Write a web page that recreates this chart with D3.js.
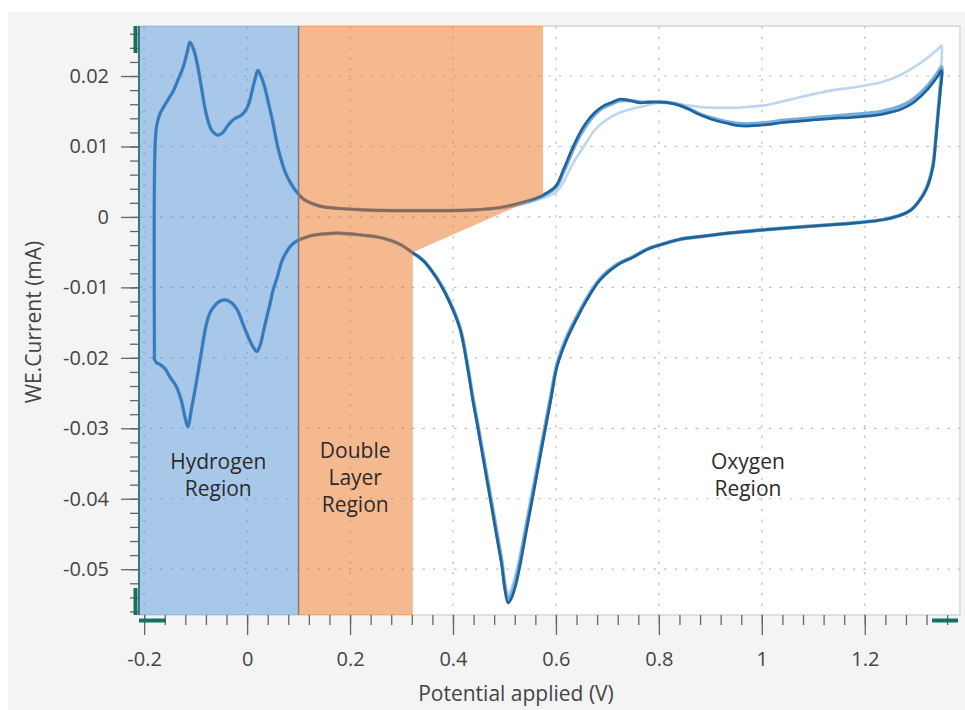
<!DOCTYPE html>
<html><head><meta charset="utf-8">
<script src="https://cdn.jsdelivr.net/npm/d3@7"></script>
<style>
html,body{margin:0;padding:0;background:#fff;}
svg{display:block;}
text{font-family:"Open Sans","Noto Sans",sans-serif;}
</style></head><body>
<svg id="chart" width="965" height="710"></svg>
<script>
// ---------------- DATA ----------------
const xTickValues = [-0.2, 0, 0.2, 0.4, 0.6, 0.8, 1, 1.2];
const yTickValues = [-0.05, -0.04, -0.03, -0.02, -0.01, 0, 0.01, 0.02];
const xTitle = "Potential applied (V)";
const yTitle = "WE.Current (mA)";
const regionNames = [["Hydrogen","Region"],["Double","Layer","Region"],["Oxygen","Region"]];

// anodic (forward) sweep potentials, V
const forwardPotential = [
 -0.180,-0.179,-0.176,-0.170,-0.163,-0.154,-0.144,-0.134,-0.124,-0.116,
 -0.111,-0.104,-0.097,-0.089,-0.082,-0.075,-0.068,-0.056,-0.047,-0.039,
 -0.030,-0.023,-0.012,-0.004,0.004,0.010,0.016,0.021,0.028,0.035,
 0.042,0.049,0.060,0.070,0.078,0.088,0.097,0.110,0.130,0.150,
 0.180,0.225,0.280,0.340,0.390,0.440,0.490,0.520,0.550,0.575,
 0.600,0.615,0.633,0.647,0.660,0.675,0.691,0.710,0.724,0.745,
 0.763,0.785,0.802,0.820,0.841,0.860,0.880,0.905,0.932,0.950,
 0.971,1.010,1.040,1.074,1.105,1.138,1.170,1.204,1.235,1.268,
 1.290,1.307,1.322,1.332,1.342,1.349];
// cathodic (reverse) sweep potentials, V
const reversePotential = [
 1.350,1.347,1.343,1.338,1.332,1.320,1.307,1.290,1.268,1.235,
 1.190,1.138,1.080,1.010,0.950,0.880,0.840,0.815,0.780,0.750,
 0.720,0.685,0.660,0.640,0.621,0.602,0.590,0.580,0.569,0.560,
 0.550,0.540,0.530,0.520,0.513,0.507,0.501,0.495,0.487,0.478,
 0.468,0.458,0.449,0.439,0.429,0.414,0.394,0.375,0.361,0.345,
 0.334,0.322,0.300,0.278,0.250,0.225,0.200,0.175,0.150,0.128,
 0.110,0.097,0.086,0.078,0.068,0.058,0.050,0.045,0.038,0.031,
 0.025,0.019,0.013,0.007,0.002,-0.008,-0.019,-0.030,-0.040,-0.047,
 -0.056,-0.064,-0.072,-0.080,-0.087,-0.094,-0.101,-0.108,-0.115,-0.121,
 -0.128,-0.138,-0.150,-0.160,-0.170,-0.176,-0.181];

// cycle 1 (lightest)
const cycle1Forward = [
 -0.0199,0.0095,0.0128,0.0145,0.0155,0.0166,0.0178,0.0195,0.0213,0.0235,
 0.0248,0.0238,0.0218,0.0185,0.0155,0.0134,0.0122,0.0116,0.0120,0.0128,
 0.0136,0.0140,0.0144,0.0150,0.0162,0.0180,0.0197,0.0208,0.0198,0.0182,
 0.0160,0.0138,0.0098,0.0072,0.0057,0.0044,0.0035,0.0025,0.0018,0.0014,
 0.0012,0.0010,0.0009,0.0009,0.0009,0.0010,0.0012,0.0016,0.0021,0.0027,
 0.0035,0.0050,0.0076,0.0092,0.0107,0.0123,0.0134,0.0143,0.0148,0.0153,
 0.0156,0.0160,0.0162,0.0162,0.0160,0.0158,0.0156,0.0155,0.0155,0.0155,
 0.0156,0.0159,0.0164,0.0170,0.0175,0.0180,0.0183,0.0187,0.0192,0.0201,
 0.0210,0.0218,0.0226,0.0232,0.0238,0.0243];
const cycle1Reverse = [
 0.0238,0.0200,0.0160,0.0115,0.0075,0.0042,0.0025,0.0011,0.0003,-0.0003,
 -0.0007,-0.0010,-0.0013,-0.0017,-0.0021,-0.0027,-0.0031,-0.0036,-0.0044,-0.0055,
 -0.0066,-0.0087,-0.0114,-0.0140,-0.0168,-0.0206,-0.0250,-0.0288,-0.0330,-0.0365,
 -0.0403,-0.0441,-0.0480,-0.0512,-0.0528,-0.0535,-0.0518,-0.0484,-0.0450,-0.0413,
 -0.0372,-0.0331,-0.0294,-0.0255,-0.0211,-0.0156,-0.0119,-0.0093,-0.0078,-0.0063,
 -0.0056,-0.0050,-0.0040,-0.0033,-0.0028,-0.0026,-0.0024,-0.0023,-0.0024,-0.0026,
 -0.0030,-0.0034,-0.0040,-0.0048,-0.0062,-0.0087,-0.0105,-0.0122,-0.0143,-0.0165,
 -0.0183,-0.0191,-0.0186,-0.0178,-0.0170,-0.0152,-0.0132,-0.0122,-0.0118,-0.0118,
 -0.0121,-0.0127,-0.0136,-0.0155,-0.0184,-0.0215,-0.0245,-0.0272,-0.0298,-0.0283,
 -0.0260,-0.0240,-0.0227,-0.0215,-0.0209,-0.0207,-0.0200];

// cycle 2 (medium)
const cycle2Forward = [
 -0.0199,0.0095,0.0128,0.0145,0.0155,0.0166,0.0178,0.0195,0.0213,0.0235,
 0.0248,0.0238,0.0218,0.0185,0.0155,0.0134,0.0122,0.0116,0.0120,0.0128,
 0.0136,0.0140,0.0144,0.0150,0.0162,0.0180,0.0197,0.0208,0.0198,0.0182,
 0.0160,0.0138,0.0098,0.0072,0.0057,0.0044,0.0035,0.0025,0.0018,0.0014,
 0.0012,0.0010,0.0009,0.0009,0.0009,0.0010,0.0013,0.0017,0.0023,0.0030,
 0.0042,0.0064,0.0095,0.0116,0.0131,0.0145,0.0155,0.0161,0.0165,0.0165,
 0.0163,0.0163,0.0163,0.0162,0.0159,0.0153,0.0146,0.0140,0.0135,0.0133,
 0.0132,0.0134,0.0137,0.0139,0.0141,0.0143,0.0145,0.0147,0.0150,0.0157,
 0.0165,0.0175,0.0186,0.0195,0.0205,0.0213];
const cycle2Reverse = [
 0.0209,0.0185,0.0153,0.0111,0.0071,0.0041,0.0024,0.0010,0.0002,-0.0004,
 -0.0008,-0.0011,-0.0014,-0.0018,-0.0022,-0.0028,-0.0032,-0.0037,-0.0045,-0.0057,
 -0.0067,-0.0089,-0.0116,-0.0143,-0.0171,-0.0210,-0.0256,-0.0294,-0.0337,-0.0372,
 -0.0411,-0.0449,-0.0489,-0.0521,-0.0536,-0.0542,-0.0525,-0.0491,-0.0457,-0.0419,
 -0.0378,-0.0336,-0.0299,-0.0259,-0.0214,-0.0158,-0.0121,-0.0094,-0.0079,-0.0064,
 -0.0057,-0.0051,-0.0040,-0.0033,-0.0028,-0.0026,-0.0024,-0.0023,-0.0024,-0.0026,
 -0.0030,-0.0034,-0.0040,-0.0048,-0.0062,-0.0087,-0.0105,-0.0122,-0.0143,-0.0165,
 -0.0183,-0.0191,-0.0186,-0.0178,-0.0170,-0.0152,-0.0132,-0.0122,-0.0118,-0.0118,
 -0.0121,-0.0127,-0.0136,-0.0155,-0.0184,-0.0215,-0.0245,-0.0272,-0.0298,-0.0283,
 -0.0260,-0.0240,-0.0227,-0.0215,-0.0209,-0.0207,-0.0200];

// cycle 3 (darkest, latest)
const cycle3Forward = [
 -0.0199,0.0095,0.0128,0.0145,0.0155,0.0166,0.0178,0.0195,0.0213,0.0235,
 0.0248,0.0238,0.0218,0.0185,0.0155,0.0134,0.0122,0.0116,0.0120,0.0128,
 0.0136,0.0140,0.0144,0.0150,0.0162,0.0180,0.0197,0.0208,0.0198,0.0182,
 0.0160,0.0138,0.0098,0.0072,0.0057,0.0044,0.0035,0.0025,0.0018,0.0014,
 0.0012,0.0010,0.0009,0.0009,0.0009,0.0010,0.0013,0.0018,0.0024,0.0031,
 0.0044,0.0068,0.0099,0.0120,0.0135,0.0148,0.0157,0.0163,0.0167,0.0165,
 0.0162,0.0163,0.0163,0.0162,0.0158,0.0152,0.0145,0.0138,0.0133,0.0130,
 0.0129,0.0131,0.0134,0.0136,0.0138,0.0140,0.0141,0.0143,0.0146,0.0152,
 0.0160,0.0170,0.0181,0.0190,0.0200,0.0208];
const cycle3Reverse = [
 0.0205,0.0180,0.0150,0.0110,0.0070,0.0040,0.0024,0.0010,0.0002,-0.0004,
 -0.0008,-0.0011,-0.0014,-0.0018,-0.0022,-0.0028,-0.0032,-0.0037,-0.0045,-0.0057,
 -0.0068,-0.0090,-0.0118,-0.0145,-0.0174,-0.0213,-0.0260,-0.0299,-0.0342,-0.0378,
 -0.0417,-0.0456,-0.0496,-0.0528,-0.0542,-0.0548,-0.0530,-0.0496,-0.0462,-0.0424,
 -0.0382,-0.0340,-0.0302,-0.0262,-0.0217,-0.0160,-0.0122,-0.0095,-0.0079,-0.0064,
 -0.0057,-0.0051,-0.0040,-0.0033,-0.0028,-0.0026,-0.0024,-0.0023,-0.0024,-0.0026,
 -0.0030,-0.0034,-0.0040,-0.0048,-0.0062,-0.0087,-0.0105,-0.0122,-0.0143,-0.0165,
 -0.0183,-0.0191,-0.0186,-0.0178,-0.0170,-0.0152,-0.0132,-0.0122,-0.0118,-0.0118,
 -0.0121,-0.0127,-0.0136,-0.0155,-0.0184,-0.0215,-0.0245,-0.0272,-0.0298,-0.0283,
 -0.0260,-0.0240,-0.0227,-0.0215,-0.0209,-0.0207,-0.0200];

// region boundaries (V / mA)
const hydrogenRegion = [-0.21, 0.1];
const doubleLayerOutline = [[0.1, 0.0271],[0.575, 0.0271],[0.575, 0.0031],[0.322, -0.0050],[0.322, -0.0565],[0.1, -0.0565]];

// ---------------- CHART ----------------
const svg = d3.select("#chart");
const plot = {l:139, r:960, t:26, b:615};
const x = d3.scaleLinear().domain([-0.21, 1.385]).range([plot.l, plot.r]);
const y = d3.scaleLinear().domain([-0.0565, 0.0271]).range([plot.b, plot.t]);

svg.append("rect").attr("x",8).attr("y",12).attr("width",957).attr("height",698).attr("fill","#f4f4f4");
svg.append("rect").attr("x",plot.l).attr("y",plot.t).attr("width",plot.r-plot.l).attr("height",plot.b-plot.t)
  .attr("fill","#ffffff").attr("stroke","#d6d6d6").attr("stroke-width",1.5);

svg.append("defs").append("clipPath").attr("id","clip").append("rect")
  .attr("x",plot.l).attr("y",plot.t).attr("width",plot.r-plot.l).attr("height",plot.b-plot.t);

// grid
const grid = svg.append("g").attr("stroke","#bdbdbd").attr("stroke-width",1.2).attr("stroke-dasharray","2.5,8");
grid.selectAll(".gx").data(xTickValues).join("line")
  .attr("x1",d=>x(d)).attr("x2",d=>x(d)).attr("y1",plot.t).attr("y2",plot.b);
grid.selectAll(".gy").data(yTickValues).join("line")
  .attr("y1",d=>y(d)).attr("y2",d=>y(d)).attr("x1",plot.l).attr("x2",plot.r);

// curves
const line = d3.line().x(d=>x(d[0])).y(d=>y(d[1])).curve(d3.curveCatmullRom.alpha(0.5));
function loop(fwd, rev){
  return forwardPotential.map((v,i)=>[v,fwd[i]]).concat(reversePotential.map((v,i)=>[v,rev[i]]));
}
const cycles = [
  {data: loop(cycle1Forward, cycle1Reverse), color:"#bcd6ee", w:2.6},
  {data: loop(cycle2Forward, cycle2Reverse), color:"#74acdc", w:3.6},
  {data: loop(cycle3Forward, cycle3Reverse), color:"#1f6399", w:2.7}
];
const cg = svg.append("g").attr("clip-path","url(#clip)");
cg.selectAll("path").data(cycles).join("path")
  .attr("d",d=>line(d.data)).attr("fill","none").attr("stroke",d=>d.color)
  .attr("stroke-width",d=>d.w).attr("stroke-linejoin","round").attr("stroke-linecap","round");

// region overlays
svg.append("rect").attr("x",x(hydrogenRegion[0])).attr("y",plot.t)
  .attr("width",x(hydrogenRegion[1])-x(hydrogenRegion[0])).attr("height",plot.b-plot.t)
  .attr("fill","#5191d5").attr("fill-opacity",0.5);
svg.append("path").attr("d", d3.line().x(d=>x(d[0])).y(d=>y(d[1]))(doubleLayerOutline)+"Z")
  .attr("fill","#eb7321").attr("fill-opacity",0.5);
svg.append("line").attr("x1",x(hydrogenRegion[1])).attr("x2",x(hydrogenRegion[1]))
  .attr("y1",plot.t).attr("y2",plot.b).attr("stroke","#7d7d7d").attr("stroke-width",1.5);

// region labels
const labelPos = [[-0.056, 469],[0.21, 458],[0.973, 469]];
regionNames.forEach((lines,k)=>{
  const t = svg.append("text").attr("text-anchor","middle").attr("font-size",21).attr("fill","#2b2b2b");
  lines.forEach((s,j)=>t.append("tspan").attr("x",x(labelPos[k][0])).attr("y",labelPos[k][1]+j*27).text(s));
});

// axes
const fmt = d=>String(+d.toFixed(3));
const xMinor = d3.range(-5,35).map(i=>i*0.04);
const yMinor = d3.range(-28,14).map(i=>i*0.002);

const xa = svg.append("g").attr("transform",`translate(0,${plot.b})`);
xa.append("g").call(d3.axisBottom(x).tickValues(xMinor).tickSize(10).tickFormat(""))
  .call(g=>g.select(".domain").remove());
xa.append("g").call(d3.axisBottom(x).tickValues(xTickValues).tickSize(20).tickPadding(17).tickFormat(fmt))
  .call(g=>g.select(".domain").remove());
const ya = svg.append("g").attr("transform",`translate(${plot.l},0)`);
ya.append("g").call(d3.axisLeft(y).tickValues(yMinor).tickSize(9).tickFormat(""))
  .call(g=>g.select(".domain").remove());
ya.append("g").call(d3.axisLeft(y).tickValues(yTickValues).tickSize(18).tickPadding(12).tickFormat(fmt))
  .call(g=>g.select(".domain").remove());
svg.selectAll(".tick line").attr("stroke","#666").attr("stroke-width",1.3);
svg.selectAll(".tick text").attr("font-size",20).attr("fill","#444")
  .attr("font-family","'Open Sans','Noto Sans',sans-serif");

// left spine
svg.append("line").attr("x1",plot.l).attr("x2",plot.l).attr("y1",plot.t).attr("y2",plot.b)
  .attr("stroke","#3f7485").attr("stroke-width",2);

// handles
const hc = "#17705f";
svg.append("line").attr("x1",135.5).attr("x2",135.5).attr("y1",plot.t).attr("y2",53).attr("stroke",hc).attr("stroke-width",4);
svg.append("line").attr("x1",135.5).attr("x2",135.5).attr("y1",588).attr("y2",plot.b).attr("stroke",hc).attr("stroke-width",4);
svg.append("line").attr("x1",plot.l).attr("x2",166).attr("y1",620.5).attr("y2",620.5).attr("stroke",hc).attr("stroke-width",4);
svg.append("line").attr("x1",932).attr("x2",958).attr("y1",620.5).attr("y2",620.5).attr("stroke",hc).attr("stroke-width",4);

// titles
svg.append("text").attr("x",516).attr("y",701).attr("text-anchor","middle").attr("font-size",21).attr("fill","#444").text(xTitle);
svg.append("text").attr("transform","translate(41,322) rotate(-90)").attr("text-anchor","middle").attr("font-size",21).attr("fill","#444").text(yTitle);
</script>
</body></html>
